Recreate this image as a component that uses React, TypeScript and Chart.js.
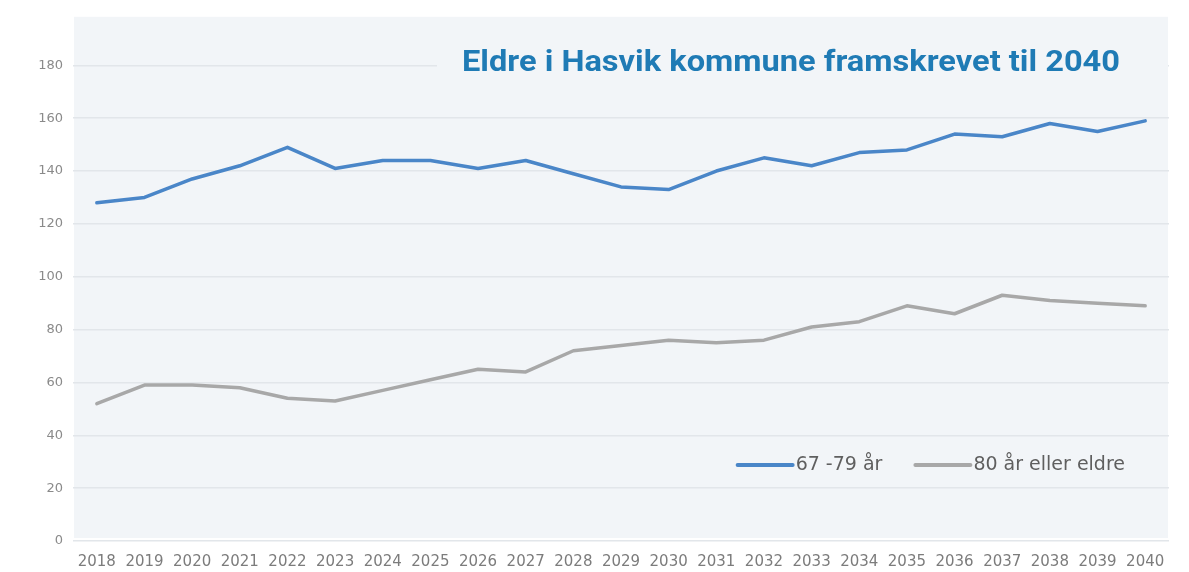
import React, { useEffect, useRef } from 'react';
import { Chart, registerables } from 'chart.js';

Chart.register(...registerables);

const years = [
  '2018', '2019', '2020', '2021', '2022', '2023', '2024', '2025', '2026', '2027', '2028', '2029',
  '2030', '2031', '2032', '2033', '2034', '2035', '2036', '2037', '2038', '2039', '2040',
];
const age67to79 = [128, 130, 137, 142, 149, 141, 144, 144, 141, 144, 139, 134, 133, 140, 145, 142, 147, 148, 154, 153, 158, 155, 159];
const age80plus = [52, 59, 59, 58, 54, 53, 57, 61, 65, 64, 72, 74, 76, 75, 76, 81, 83, 89, 86, 93, 91, 90, 89];
const seriesLabels = ['67 -79 år', '80 år eller eldre'];
const seriesColors = ['#4a86c8', '#a8a8a8'];
const titleText = 'Eldre i Hasvik kommune framskrevet til 2040';
const yMin = 0;
const yMax = 198;
const yStep = 20;

const PANEL = '#f2f5f8';

export default function App() {
  const ref = useRef<HTMLCanvasElement>(null);

  useEffect(() => {
    if (!ref.current) return;

    const decor = {
      id: 'decor',
      beforeDraw(chart: any) {
        const { ctx, chartArea: a } = chart;
        ctx.save();
        ctx.fillStyle = PANEL;
        ctx.fillRect(a.left + 1, a.top - 1, a.right - a.left - 2, a.bottom - a.top - 2);
        ctx.restore();
      },
      beforeDatasetsDraw(chart: any) {
        const { ctx, chartArea: a } = chart;
        ctx.save();
        ctx.fillStyle = PANEL;
        const x0 = a.left + 364;
        ctx.fillRect(x0, a.top + 20, a.right - x0 - 1, 60);
        ctx.font = 'bold 30px Roboto';
        const w = ctx.measureText(titleText).width;
        const target = 658;
        const right = a.right - 49;
        ctx.translate(right - target, a.top + 53);
        ctx.scale(target / w, 1);
        ctx.fillStyle = '#1f7bb5';
        ctx.textBaseline = 'alphabetic';
        ctx.textAlign = 'left';
        ctx.fillText(titleText, 0, 0);
        ctx.restore();
      },
      afterDatasetsDraw(chart: any) {
        const { ctx, chartArea: a } = chart;
        ctx.save();
        ctx.font = '19px "DejaVu Sans"';
        ctx.textBaseline = 'middle';
        ctx.textAlign = 'left';
        const y = a.bottom - 76;
        const lineLen = 55;
        const gapLineText = 3;
        const gapItems = 33;
        let xEnd = a.right - 44;
        const ds = chart.data.datasets;
        for (let i = ds.length - 1; i >= 0; i--) {
          const label = ds[i].label as string;
          const tw = ctx.measureText(label).width;
          const tx = xEnd - tw;
          ctx.fillStyle = '#5f5f5f';
          ctx.fillText(label, tx, y);
          ctx.strokeStyle = ds[i].borderColor;
          ctx.lineWidth = 4;
          ctx.lineCap = 'round';
          ctx.beginPath();
          ctx.moveTo(tx - gapLineText - lineLen, y);
          ctx.lineTo(tx - gapLineText, y);
          ctx.stroke();
          xEnd = tx - gapLineText - lineLen - gapItems;
        }
        ctx.restore();
      },
    };

    const chart = new Chart(ref.current, {
      type: 'line',
      data: {
        labels: years,
        datasets: [
          {
            label: seriesLabels[0],
            data: age67to79,
            borderColor: seriesColors[0],
            borderWidth: 3.5,
            pointRadius: 0,
            tension: 0,
            borderJoinStyle: 'round',
            borderCapStyle: 'round',
          },
          {
            label: seriesLabels[1],
            data: age80plus,
            borderColor: seriesColors[1],
            borderWidth: 3.5,
            pointRadius: 0,
            tension: 0,
            borderJoinStyle: 'round',
            borderCapStyle: 'round',
          },
        ],
      },
      options: {
        animation: false,
        responsive: true,
        maintainAspectRatio: false,
        layout: { padding: { top: 16, right: 20, left: 0, bottom: 0 } },
        plugins: {
          legend: { display: false },
          title: { display: false },
          tooltip: { enabled: false },
        },
        scales: {
          x: {
            offset: true,
            grid: { display: false, drawTicks: false },
            border: { display: false },
            ticks: {
              autoSkip: false,
              maxRotation: 0,
              color: '#7c7c7c',
              font: { family: 'DejaVu Sans', size: 15 },
              padding: 12,
            },
            afterFit(scale: any) {
              scale.height = 31;
            },
          },
          y: {
            min: yMin,
            max: yMax,
            grid: { color: '#e2e6ea', lineWidth: 1.5, drawTicks: false },
            border: { display: false },
            ticks: {
              stepSize: yStep,
              includeBounds: false,
              color: '#8a8a8a',
              font: { family: 'DejaVu Sans', size: 13 },
              padding: 10,
            },
            afterFit(scale: any) {
              scale.width = 73;
            },
          },
        },
      },
      plugins: [decor],
    });

    return () => chart.destroy();
  }, []);

  return (
    <div style={{ position: 'fixed', left: 0, top: 0, width: 1189, height: 572, background: '#ffffff' }}>
      <canvas ref={ref} />
    </div>
  );
}
